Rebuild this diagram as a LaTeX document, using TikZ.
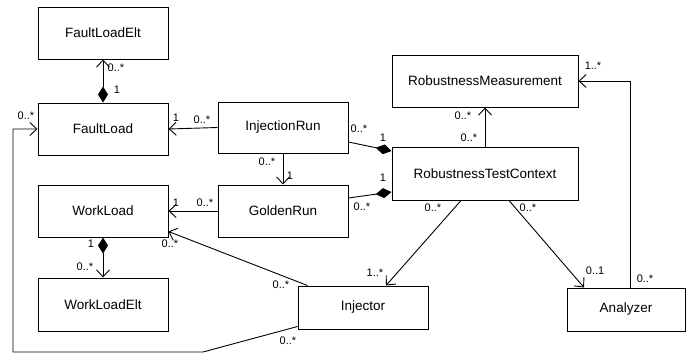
\documentclass[tikz,border=0pt]{standalone}
\usepackage{fontspec}
\setmainfont{Liberation Sans}
\usetikzlibrary{arrows.meta}
\begin{document}
\begin{tikzpicture}[x=1pt,y=-1pt,
  cls/.style={draw,line width=1pt,fill=white,font=\fontsize{13.5}{15}\selectfont,inner sep=0pt,minimum width=130pt,minimum height=52pt},
  lbl/.style={font=\fontsize{11}{12}\selectfont,inner sep=0pt},
  conn/.style={line width=0.9pt},
  nav/.style={conn,-{Straight Barb[length=7pt,width=13pt,line width=0.9pt]}},
  comp/.style={conn,{Diamond[length=16pt,width=10pt]}-{Straight Barb[length=7pt,width=13pt,line width=0.9pt]}},
  compend/.style={conn,-{Diamond[length=16pt,width=10pt]}}]
\useasboundingbox (0,0) rectangle (694,356);
% classes
\node[cls] (fle) at (103,33) {FaultLoadElt};
\node[cls] (fl) at (103,129) {FaultLoad};
\node[cls] (wl) at (103,211) {WorkLoad};
\node[cls,minimum height=53pt] (wle) at (103,304.5) {WorkLoadElt};
\node[cls,minimum height=51pt] (ir) at (283,127.5) {InjectionRun};
\node[cls] (gr) at (283,211) {GoldenRun};
\node[cls,minimum width=186pt] (rm) at (485,81) {RobustnessMeasurement};
\node[cls,minimum width=186pt,minimum height=53pt] (rtc) at (485,173.5) {RobustnessTestContext};
\node[cls,minimum height=43pt] (inj) at (363,307.5) {Injector};
\node[cls,minimum width=118pt,minimum height=43pt] (an) at (626,309.5) {Analyzer};
% connectors
\draw[comp] (fl.north) -- (fle.south);
\draw[comp] (wl.south) -- (wle.north);
\draw[nav] (ir.west) -- (fl.east);
\draw[nav] (gr.west) -- (wl.east);
\draw[nav] (ir.south) -- (gr.north);
\draw[compend] ([yshift=-14.5pt]ir.east) -- ([yshift=22.5pt]rtc.west);
\draw[compend] ([yshift=13pt]gr.east) -- ([yshift=-18.5pt]rtc.west);
\draw[nav] (rtc.north) -- (rm.south);
\draw[nav] ([xshift=-24pt]rtc.south) -- ([xshift=23pt]inj.north);
\draw[nav] ([xshift=24pt]rtc.south) -- ([xshift=-42pt]an.north);
\draw[nav] ([xshift=4pt]an.north) |- (rm.east);
\draw[nav] ([xshift=10pt]inj.north west) -- ([yshift=6pt]wl.south east);
\coordinate (b1) at (203,352);
\coordinate (b2) at (13,352);
\coordinate (b3) at (13,129);
\draw[nav] ([yshift=3pt]inj.south west) -- (b1) -- (b2) -- (b3) -- (fl.west);
% labels
\node[lbl] (l1) at (116,68) {0..*};
\node[lbl] (l2) at (117,90) {1};
\node[lbl] (l3) at (26,116) {0..*};
\node[lbl] (l4) at (176,118) {1};
\node[lbl] (l5) at (202,120) {0..*};
\node[lbl] (l6) at (176,203) {1};
\node[lbl] (l7) at (205,203) {0..*};
\node[lbl] (l8) at (267,162) {0..*};
\node[lbl] (l9) at (290,176) {1};
\node[lbl] (l10) at (359,129) {0..*};
\node[lbl] (l11) at (383,138) {1};
\node[lbl] (l12) at (383,178) {1};
\node[lbl] (l13) at (362,207) {0..*};
\node[lbl] (l14) at (463,116) {0..*};
\node[lbl] (l15) at (469,138) {0..*};
\node[lbl] (l16) at (593,66) {1..*};
\node[lbl] (l17) at (433,208) {0..*};
\node[lbl] (l18) at (528,208) {0..*};
\node[lbl] (l19) at (375,273) {1..*};
\node[lbl] (l20) at (595,271) {0..1};
\node[lbl] (l21) at (645,279) {0..*};
\node[lbl] (l22) at (91,244) {1};
\node[lbl] (l23) at (85,267) {0..*};
\node[lbl] (l24) at (170,244) {0..*};
\node[lbl] (l25) at (281,285) {0..*};
\node[lbl] (l26) at (288,341) {0..*};
\end{tikzpicture}
\end{document}
